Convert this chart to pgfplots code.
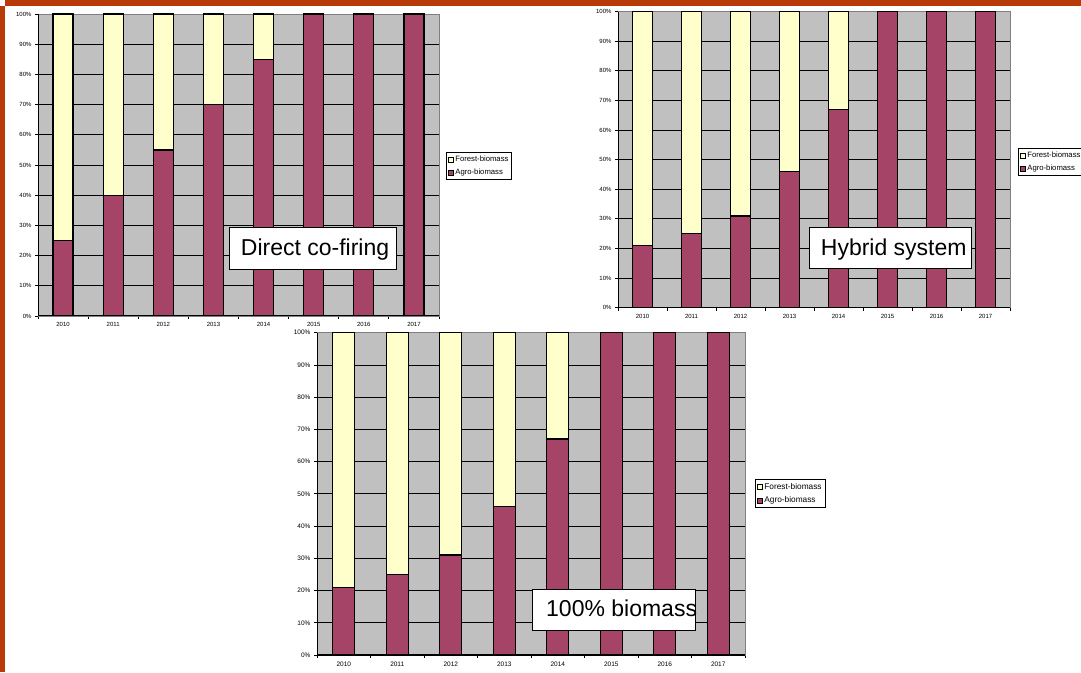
\documentclass[border=0pt]{standalone}
\usepackage{pgfplots}
\pgfplotsset{compat=1.18}
\usepackage{fontspec}
\setmainfont{Liberation Sans}
\definecolor{bg}{RGB}{192,192,192}
\definecolor{forest}{RGB}{255,255,204}
\definecolor{agro}{RGB}{166,68,104}
\definecolor{frame}{RGB}{184,58,8}
\definecolor{edge}{RGB}{128,128,128}

\pgfplotsset{
  mychart/.style={
    scale only axis, anchor=south west,
    ybar stacked, bar width=#1,
    xmin=-0.5, xmax=7.5, ymin=0, ymax=100,
    enlargelimits=false,
    xtick={0,1,2,3,4,5,6,7},
    xticklabels={2010,2011,2012,2013,2014,2015,2016,2017},
    major x tick style={draw=none},
    minor xtick={-0.5,0.5,1.5,2.5,3.5,4.5,5.5,6.5,7.5},
    minor tick length=3pt, major tick length=3pt,
    tick align=outside, tick pos=left,
    ytick={0,10,...,100},
    yticklabel={\pgfmathprintnumber{\tick}\%},
    /pgf/number format/assume math mode=true,
    ticklabel style={font=\fontsize{6}{7}\selectfont},
    tick style={black, line width=0.8pt},
    ymajorgrids, grid style={black, line width=0.8pt},
    axis background/.style={fill=bg},
    axis line style={edge, line width=0.8pt},
    legend cell align=left,
    reverse legend,
    legend image code/.code={\draw[##1, line width=0.4pt] (0pt,-2.5pt) rectangle (5pt,2.5pt);},
    legend style={font=\fontsize{7.7}{8.5}\selectfont, draw=black, line width=1pt, fill=white,
      inner sep=1.5pt, row sep=2pt, anchor=north west},
    legend entries={Agro-biomass,Forest-biomass},
  },
  agrobar/.style={fill=agro, draw=black, line width=1.3pt},
  forestbar/.style={fill=forest, draw=black, line width=1.3pt},
}

\begin{document}
\begin{tikzpicture}[x=1pt,y=1pt]
\clip (0,0) rectangle (1081,672);
\fill[white] (0,0) rectangle (1081,672);
\fill[frame] (0,0) rectangle (5,666);
\fill[frame] (5,666) rectangle (1081,672);

% Chart 1: Direct co-firing
\begin{axis}[mychart=20pt, at={(38pt,356pt)}, width=401pt, height=302pt,
  legend style={at={(1.0175,0.543)}}]
\addplot[agrobar] coordinates {(0,25) (1,40) (2,55) (3,70) (4,85) (5,100) (6,100) (7,100)};
\addplot[forestbar] coordinates {(0,75) (1,60) (2,45) (3,30) (4,15) (5,0) (6,0) (7,0)};
\draw[black, line width=1.5pt] (rel axis cs:0,0) -- (rel axis cs:0,1);
\draw[black, line width=1.2pt] (rel axis cs:0,0) -- (rel axis cs:1,0);
\end{axis}

% Chart 2: Hybrid system
\begin{axis}[mychart=20pt, at={(618pt,364.3pt)}, width=392pt, height=296pt,
  legend style={at={(1.0204,0.5395)}}]
\addplot[agrobar] coordinates {(0,21) (1,25) (2,31) (3,46) (4,67) (5,100) (6,100) (7,100)};
\addplot[forestbar] coordinates {(0,79) (1,75) (2,69) (3,54) (4,33) (5,0) (6,0) (7,0)};
\draw[black, line width=1.5pt] (rel axis cs:0,0) -- (rel axis cs:0,1);
\draw[black, line width=1.2pt] (rel axis cs:0,0) -- (rel axis cs:1,0);
\end{axis}

% Chart 3: 100% biomass
\begin{axis}[mychart=22pt, at={(317pt,17pt)}, width=428pt, height=322.3pt,
  ticklabel style={font=\fontsize{6.5}{7.5}\selectfont},
  legend style={at={(1.0234,0.546)}, font=\fontsize{8.3}{9}\selectfont}]
\addplot[agrobar] coordinates {(0,21) (1,25) (2,31) (3,46) (4,67) (5,100) (6,100) (7,100)};
\addplot[forestbar] coordinates {(0,79) (1,75) (2,69) (3,54) (4,33) (5,0) (6,0) (7,0)};
\draw[black, line width=1.5pt] (rel axis cs:0,0) -- (rel axis cs:0,1);
\draw[black, line width=1.2pt] (rel axis cs:0,0) -- (rel axis cs:1,0);
\end{axis}

% Labels
\draw[fill=white, line width=1pt] (229,402) rectangle (396,444);
\node[anchor=base west, inner sep=0, font=\fontsize{23}{26}\selectfont] at (240.7,416.3) {Direct co-firing};
\draw[fill=white, line width=1pt] (809,403) rectangle (971.7,444);
\node[anchor=base west, inner sep=0, font=\fontsize{23}{26}\selectfont] at (820.7,416.3) {Hybrid system};
\draw[fill=white, line width=1pt] (532.7,42) rectangle (695,82.7);
\node[anchor=base west, inner sep=0, font=\fontsize{23}{26}\selectfont] at (546,56) {100\% biomass};
\end{tikzpicture}
\end{document}
